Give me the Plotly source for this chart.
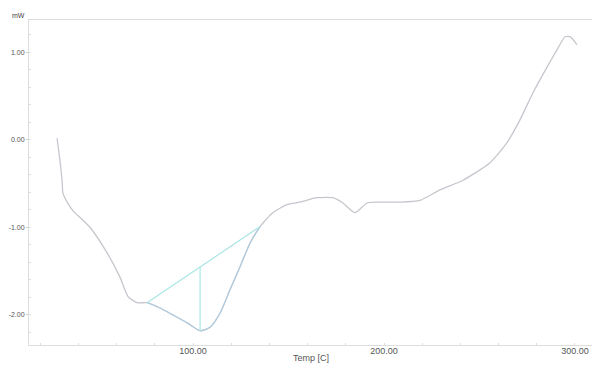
import plotly.graph_objects as go

# DSC curve (Temp [C], mW)
temp = [28.8, 30.4, 31.4, 31.9, 34.6, 37.2, 46.1, 55.0, 61.8, 66.0, 70.7, 75.9,
        82.7, 89.5, 96.9, 103.7, 108.9, 114.1, 119.4, 124.6, 129.8, 135.1, 141.9,
        149.2, 156.0, 164.9, 173.3, 178.5, 184.8, 191.1, 196.3, 208.4, 218.8,
        229.3, 241.4, 255.5, 264.4, 271.2, 278.0, 285.3, 290.6, 294.8, 297.4, 301.0]
mw = [0.02, -0.25, -0.46, -0.61, -0.73, -0.81, -1.00, -1.29, -1.57, -1.79, -1.86, -1.86,
      -1.92, -2.00, -2.09, -2.18, -2.14, -1.98, -1.71, -1.45, -1.18, -0.99, -0.83,
      -0.74, -0.71, -0.66, -0.66, -0.72, -0.83, -0.72, -0.71, -0.71, -0.69,
      -0.57, -0.46, -0.26, -0.03, 0.23, 0.54, 0.83, 1.03, 1.18, 1.18, 1.09]

# peak analysis: baseline end points and peak position
base_t = [75.9, 135.1]
base_mw = [-1.86, -0.99]
peak_t = 103.7
peak_mw = -2.18

y_ticks = [1.0, 0.0, -1.0, -2.0]
y_tick_text = ["1.00", "0.00", "-1.00", "-2.00"]
x_ticks = [100, 200, 300]
x_tick_text = ["100.00", "200.00", "300.00"]

base_at_peak = base_mw[0] + (peak_t - base_t[0]) / (base_t[1] - base_t[0]) * (base_mw[1] - base_mw[0])

fig = go.Figure()
fig.add_trace(go.Scatter(x=temp, y=mw, mode="lines",
                         line=dict(color="#c6c6ce", width=1.3, shape="spline", smoothing=0.6),
                         hoverinfo="skip"))
# peak segment overlay
seg_t = [t for t in temp if base_t[0] <= t <= base_t[1]]
seg_m = [m for t, m in zip(temp, mw) if base_t[0] <= t <= base_t[1]]
fig.add_trace(go.Scatter(x=seg_t, y=seg_m, mode="lines",
                         line=dict(color="#b0cce0", width=1.2, shape="spline", smoothing=0.6),
                         hoverinfo="skip"))
fig.add_trace(go.Scatter(x=base_t, y=base_mw, mode="lines",
                         line=dict(color="#a8e6e4", width=1.2), hoverinfo="skip"))
fig.add_trace(go.Scatter(x=[peak_t, peak_t], y=[base_at_peak, peak_mw], mode="lines",
                         line=dict(color="#a8e6e4", width=1.2), hoverinfo="skip"))

# page body has an 8px margin, so the figure is sized/margined to compensate
fig.update_layout(
    width=592, height=357,
    margin=dict(l=21, r=0, t=12, b=20, pad=0),
    paper_bgcolor="white", plot_bgcolor="white",
    showlegend=False,
    font=dict(family="Liberation Sans", color="#555555", size=8),
    annotations=[
        dict(text="mW", xref="paper", yref="paper", x=-0.018, y=1.015,
             showarrow=False, font=dict(size=7, color="#444444"), xanchor="center", yanchor="middle"),
        dict(text="Temp [C]", xref="paper", yref="paper", x=0.494, y=-0.040,
             showarrow=False, font=dict(size=9, color="#555555"), xanchor="center", yanchor="middle"),
    ],
)
fig.update_xaxes(range=[14.1, 313.1], tickvals=x_ticks, ticktext=x_tick_text,
                 showgrid=False, zeroline=False, showline=True, linecolor="#dddddd",
                 linewidth=1, mirror=True, ticks="", ticklabelstandoff=-3,
                 tickfont=dict(size=9, color="#555555"),
                 minor=dict(dtick=20, ticks="inside", ticklen=2, tickcolor="#dddddd"))
fig.update_yaxes(range=[-2.343, 1.371], tickvals=y_ticks, ticktext=y_tick_text,
                 showgrid=False, zeroline=False, showline=True, linecolor="#dddddd",
                 linewidth=1, ticks="outside", ticklen=2, tickcolor="#cccccc",
                 tickfont=dict(size=7, color="#555555"),
                 minor=dict(dtick=0.2, ticks="inside", ticklen=2, tickcolor="#dddddd"))

fig.write_html("out.html")
